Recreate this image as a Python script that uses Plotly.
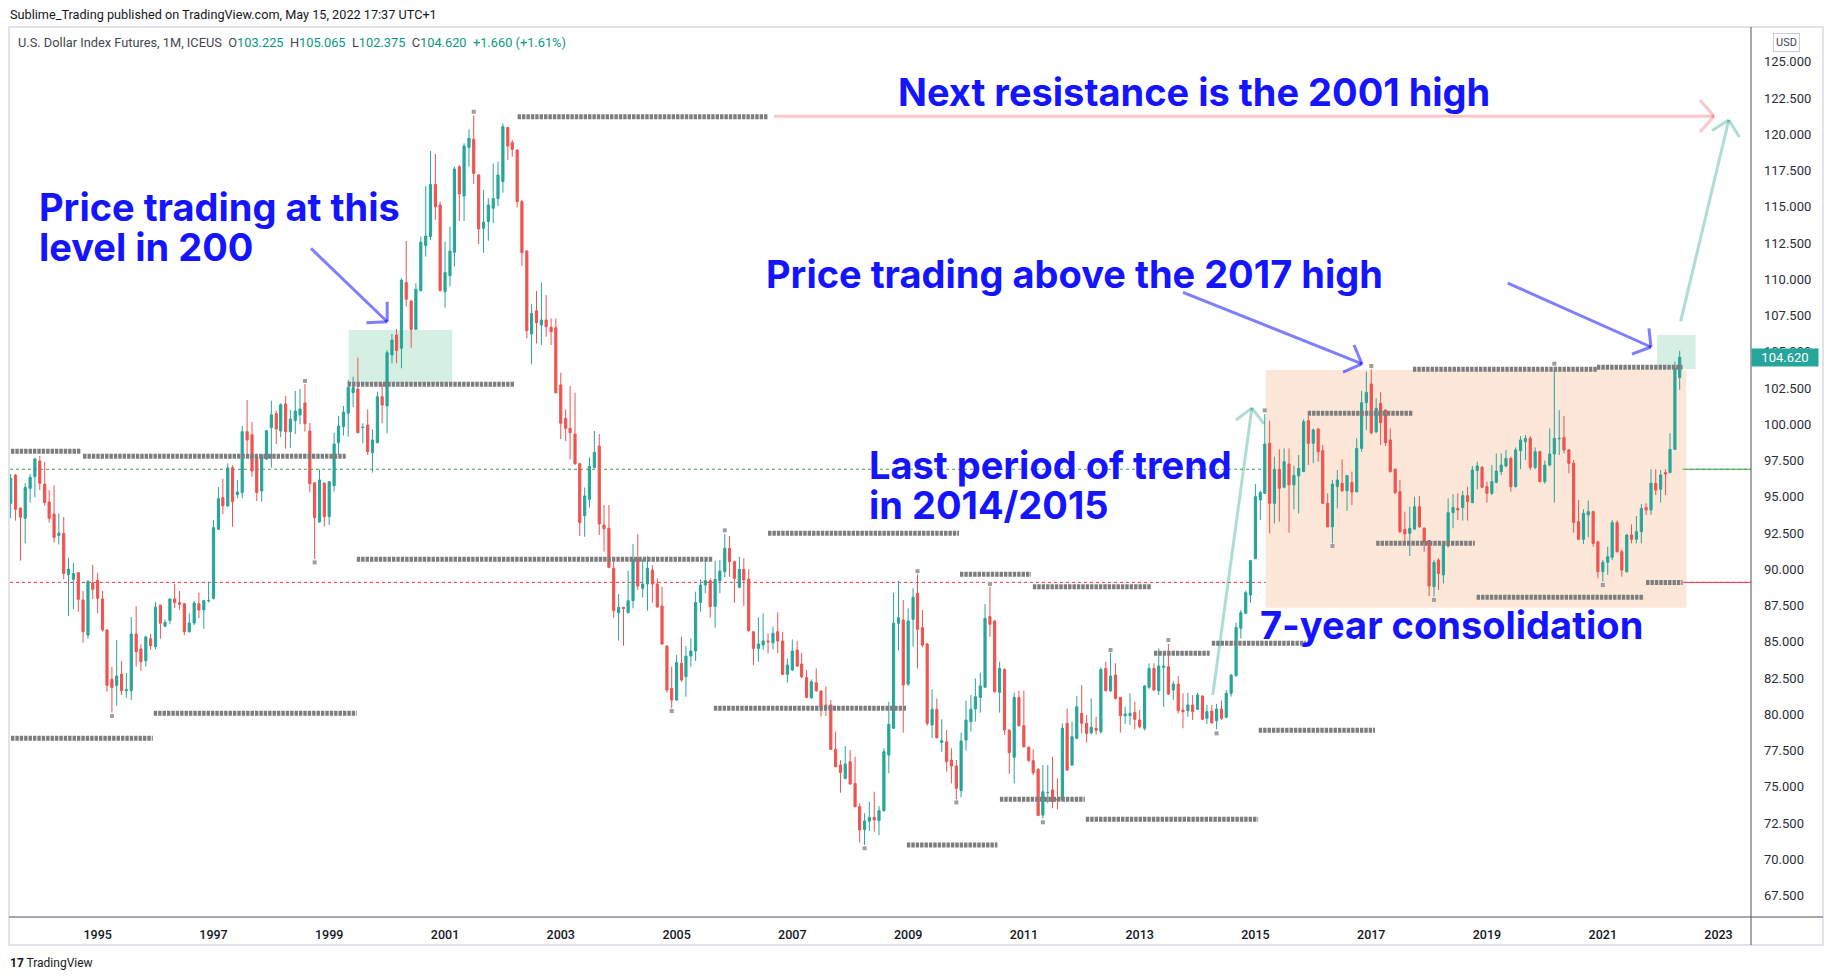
"""Dollar index futures, monthly candles 1993-2022, with the TradingView
style markup (pivot levels, boxes, arrows and notes) drawn on top."""

import pandas as pd
import plotly.graph_objects as go

# the browser puts the figure 8px in from the page corner (body margin)
BODY_MARGIN = 8
PAGE_W, PAGE_H = 1833, 980
FIG_W, FIG_H = PAGE_W - 2 * BODY_MARGIN, PAGE_H - 2 * BODY_MARGIN
# price pane, in page pixels
PANE_L, PANE_R, PANE_T, PANE_B = 10, 1751, 32, 917

UP = "#26a69a"
DOWN = "#ef5350"
INK = "#131722"
VALUE_GREEN = "#089981"
PIVOT_GREY = "#7d7d7d"
NOTE_BLUE = "#1414ff"
ARROW_BLUE = "rgba(20,20,255,0.55)"
ARROW_PINK = "rgba(242,54,69,0.28)"
ARROW_GREEN = "rgba(8,153,129,0.33)"
FRAME = "#e0e3eb"
AXIS_LINE = "#50535e"
UI_FONT = "Roboto"
NOTE_FONT = "Inter"

# ---------------------------------------------------------------- data
FIRST_MONTH = "1993-07-01"

opens = [
    94.55, 96.50, 94.23, 93.52, 95.58, 96.39,                               # 1993 Jul-Dec
    97.47, 95.88, 94.64, 93.81, 92.34, 92.48, 89.63, 89.31, 89.77, 87.89, 85.47, 89.06,
    89.24, 87.96, 85.82, 82.42, 82.00, 82.78, 81.63, 81.63, 85.54, 84.51, 83.70, 85.22,
    84.67, 87.52, 86.09, 86.48, 87.96, 87.70, 87.63, 85.70, 86.30, 87.63, 87.20, 87.84,
    88.00, 92.76, 94.94, 94.37, 97.01, 95.15, 95.29, 99.49, 99.28, 97.70, 95.40, 97.61,
    99.77, 100.73, 99.54, 101.40, 99.49, 100.25, 100.64, 101.47, 99.54, 95.97, 93.26, 95.95,
    93.63, 95.77, 98.73, 99.84, 100.76, 102.18, 102.43, 99.77, 99.95, 98.04, 98.73, 101.90,
    101.26, 104.78, 106.16, 105.24, 109.77, 108.50, 106.55, 109.22, 112.32, 112.94, 116.54, 115.12,
    109.15, 110.25, 111.86, 117.76, 115.74, 119.08, 119.65, 117.19, 113.52, 113.98, 114.89, 115.56,
    116.73, 120.47, 119.42, 118.91, 115.35, 111.95, 106.23, 107.83, 106.85, 107.19, 106.69, 106.66,
    102.71, 100.41, 99.72, 99.33, 97.28, 93.70, 94.83, 97.01, 98.50, 93.06, 92.83, 90.07,
    87.01, 87.38, 87.01, 87.84, 90.76, 88.69, 88.99, 89.95, 88.99, 87.47, 84.71, 81.80,
    80.99, 83.52, 82.60, 84.02, 84.37, 87.72, 88.92, 89.22, 87.43, 89.22, 89.84, 91.45,
    90.53, 88.76, 90.00, 89.33, 85.70, 84.55, 84.78, 85.06, 84.94, 85.70, 85.06, 82.76,
    83.06, 84.44, 83.47, 82.55, 81.15, 82.18, 81.61, 80.65, 80.65, 77.59, 76.51, 75.59,
    76.74, 75.24, 73.64, 72.07, 72.63, 72.90, 72.67, 73.36, 77.20, 79.04, 86.28, 86.51,
    82.09, 86.55, 88.35, 85.98, 84.85, 79.27, 80.35, 78.07, 78.12, 76.85, 76.44, 74.74,
    78.23, 79.50, 80.37, 81.17, 81.87, 86.74, 86.44, 81.52, 83.10, 78.92, 77.04, 81.17,
    79.22, 77.73, 76.81, 76.21, 73.06, 74.60, 74.79, 74.14, 74.10, 79.38, 76.51, 78.35,
    80.07, 79.38, 78.74, 79.04, 78.81, 83.17, 81.63, 82.71, 81.17, 79.91, 79.91, 80.14,
    79.61, 79.04, 81.87, 83.17, 81.63, 83.24, 83.29, 81.68, 82.09, 80.30, 80.26, 80.65,
    80.35, 81.27, 79.73, 80.23, 79.57, 80.37, 79.80, 81.45, 82.67, 85.93, 86.97, 88.23,
    90.74, 94.78, 95.24, 98.69, 94.55, 96.90, 95.66, 97.26, 95.82, 96.44, 96.74, 100.25,
    98.69, 99.68, 98.18, 94.55, 92.94, 95.70, 95.93, 95.42, 95.98, 95.35, 98.34, 101.49,
    102.78, 99.49, 101.45, 100.99, 98.92, 96.90, 95.35, 92.76, 92.48, 92.78, 94.32, 92.85,
    91.98, 88.80, 90.64, 89.61, 91.61, 93.91, 94.20, 94.27, 95.08, 94.60, 96.81, 97.03,
    95.70, 95.24, 96.00, 96.74, 97.13, 97.65, 95.70, 98.18, 98.80, 99.03, 97.03, 98.11,
    96.05, 97.19, 97.95, 99.00, 99.10, 98.23, 97.31, 93.29, 92.07, 93.75, 93.98, 91.90,
    89.84, 90.48, 90.83, 93.22, 91.22, 89.84, 92.37, 92.07, 92.60, 94.27, 94.09, 95.93,
    95.52, 96.67, 96.67, 98.27, 103.225,                                     # 2022 Jan-May
]

highs = [
    96.57, 96.57, 94.25, 95.93, 96.57, 97.72,
    97.81, 97.42, 95.47, 95.79, 93.86, 93.61, 90.80, 90.44, 89.80, 88.51, 89.26, 90.30,
    89.77, 88.51, 85.85, 83.29, 85.13, 83.68, 82.85, 86.71, 87.45, 84.83, 85.41, 85.54,
    87.75, 87.59, 86.55, 87.98, 89.01, 88.51, 87.65, 86.97, 87.82, 88.39, 87.89, 89.15,
    93.40, 95.68, 96.25, 97.31, 97.17, 96.16, 99.88, 101.68, 100.16, 97.72, 97.91, 99.61,
    101.63, 100.94, 101.45, 101.97, 100.99, 102.30, 102.43, 102.78, 100.09, 95.99, 96.89, 95.97,
    96.09, 99.42, 100.57, 101.26, 103.06, 103.28, 104.59, 100.07, 101.03, 99.65, 102.25, 102.82,
    105.12, 106.23, 106.57, 110.06, 112.64, 108.55, 109.72, 112.94, 116.43, 118.84, 118.64, 115.35,
    112.59, 113.63, 117.76, 117.88, 119.37, 120.34, 121.30, 117.25, 116.16, 115.58, 117.99, 118.11,
    120.75, 120.50, 119.60, 118.95, 115.46, 112.00, 108.29, 109.19, 109.77, 108.91, 107.30, 107.30,
    103.56, 101.03, 102.64, 102.18, 97.35, 95.65, 97.72, 99.54, 99.33, 94.43, 94.43, 90.53,
    88.30, 87.40, 89.91, 91.74, 92.43, 90.69, 90.90, 90.28, 89.38, 88.80, 84.75, 83.29,
    84.09, 85.36, 84.71, 85.24, 88.46, 89.31, 90.64, 89.38, 90.60, 90.64, 92.45, 92.30,
    90.60, 90.87, 90.76, 90.02, 85.75, 86.69, 86.97, 85.59, 86.05, 87.04, 85.70, 83.86,
    85.17, 85.06, 84.25, 83.06, 82.41, 83.17, 81.65, 81.91, 80.99, 78.81, 76.85, 77.82,
    77.54, 77.08, 73.87, 73.18, 73.98, 74.67, 73.68, 77.66, 80.87, 88.39, 89.20, 87.88,
    87.31, 88.69, 89.65, 87.20, 84.94, 81.73, 81.10, 79.66, 78.92, 77.66, 76.85, 78.74,
    80.95, 81.33, 82.48, 82.87, 87.61, 88.80, 86.51, 83.63, 83.17, 78.95, 81.50, 81.63,
    81.63, 77.80, 77.59, 76.28, 76.51, 76.51, 77.08, 75.59, 79.38, 80.41, 79.50, 81.26,
    82.02, 79.96, 81.10, 79.84, 83.24, 83.63, 84.25, 83.52, 81.20, 80.53, 81.45, 80.88,
    80.30, 82.02, 83.52, 83.52, 84.55, 84.21, 84.85, 82.30, 82.64, 81.45, 81.50, 81.33,
    81.50, 81.30, 80.65, 80.65, 80.72, 80.95, 81.68, 82.78, 86.32, 87.20, 88.53, 90.65,
    95.88, 95.42, 100.70, 100.25, 97.77, 98.27, 98.34, 98.34, 97.13, 97.88, 100.34, 100.57,
    99.72, 99.70, 98.57, 95.24, 96.16, 96.85, 97.58, 96.51, 96.74, 99.03, 102.32, 103.63,
    103.79, 101.79, 102.20, 101.00, 99.72, 96.96, 96.16, 93.98, 94.32, 95.01, 95.06, 92.87,
    92.00, 90.64, 90.76, 91.84, 94.90, 95.19, 95.24, 95.42, 95.70, 97.13, 97.42, 97.13,
    96.05, 97.19, 97.99, 97.99, 98.23, 97.77, 98.41, 99.19, 99.26, 99.19, 98.40, 98.18,
    97.50, 99.72, 103.96, 100.97, 100.57, 98.27, 97.54, 94.78, 94.14, 94.75, 94.04, 91.95,
    90.64, 91.56, 93.40, 93.36, 91.38, 92.44, 93.10, 93.68, 94.50, 94.55, 96.90, 96.90,
    96.85, 96.90, 99.38, 104.32, 105.065,
]

lows = [
    93.52, 93.36, 90.60, 91.79, 94.60, 94.96,
    95.47, 94.39, 93.22, 91.84, 91.72, 89.31, 86.78, 87.24, 87.08, 84.94, 85.22, 87.95,
    86.97, 85.70, 81.57, 80.12, 80.60, 81.33, 81.15, 80.99, 83.29, 83.01, 83.29, 84.46,
    84.48, 85.22, 86.00, 86.21, 87.33, 87.20, 85.47, 85.63, 86.16, 86.62, 85.91, 87.70,
    87.93, 92.71, 93.81, 94.32, 92.94, 94.90, 94.90, 97.81, 96.39, 94.71, 94.67, 97.54,
    97.01, 98.64, 99.10, 98.32, 98.37, 99.33, 100.00, 99.49, 95.31, 90.71, 93.22, 92.94,
    93.06, 95.36, 97.95, 99.22, 99.15, 101.20, 99.40, 98.69, 97.88, 96.67, 98.69, 100.07,
    99.38, 104.20, 104.20, 103.86, 108.11, 105.28, 106.50, 109.15, 111.56, 112.71, 114.10, 109.15,
    108.04, 109.49, 110.87, 114.02, 114.02, 117.76, 116.57, 112.43, 111.83, 112.66, 113.86, 115.05,
    115.97, 118.22, 118.45, 114.96, 110.92, 105.93, 104.13, 105.58, 105.47, 106.04, 105.47, 102.13,
    98.98, 98.85, 97.58, 97.20, 92.30, 92.25, 94.27, 96.96, 92.37, 91.22, 90.07, 86.67,
    85.08, 84.73, 86.97, 87.31, 88.58, 88.05, 87.15, 87.70, 87.38, 84.78, 81.50, 80.42,
    80.95, 82.25, 81.22, 83.29, 83.68, 87.08, 88.35, 86.67, 85.98, 88.35, 89.45, 89.49,
    87.70, 88.69, 87.47, 85.70, 83.40, 83.63, 84.44, 84.21, 84.48, 84.21, 82.71, 82.18,
    83.00, 83.30, 82.48, 81.10, 81.06, 81.56, 79.84, 79.89, 77.54, 76.35, 74.60, 75.52,
    75.15, 73.59, 71.16, 71.00, 71.96, 71.91, 71.68, 73.30, 75.94, 78.99, 84.39, 78.74,
    81.96, 84.67, 83.17, 84.62, 79.22, 78.35, 78.35, 77.43, 76.05, 75.24, 74.14, 74.28,
    77.50, 78.81, 79.50, 80.12, 81.87, 85.36, 81.50, 80.12, 78.58, 75.89, 75.24, 79.15,
    77.70, 76.74, 75.82, 73.00, 72.83, 73.87, 73.52, 73.46, 74.05, 76.10, 76.45, 78.28,
    78.69, 78.05, 78.60, 78.60, 78.65, 81.60, 81.55, 81.03, 78.74, 79.34, 79.27, 78.97,
    79.04, 78.88, 81.73, 81.63, 81.33, 80.53, 81.33, 81.00, 80.07, 79.04, 79.84, 79.61,
    80.30, 79.61, 79.34, 79.34, 78.97, 79.61, 79.73, 81.22, 82.60, 85.24, 86.92, 87.70,
    90.69, 93.40, 95.20, 92.48, 93.17, 93.29, 95.59, 92.53, 94.14, 93.86, 96.70, 97.19,
    97.31, 97.42, 94.50, 92.89, 91.79, 94.20, 95.33, 94.04, 94.43, 95.30, 98.11, 99.60,
    99.30, 99.38, 98.57, 98.50, 96.67, 95.20, 92.50, 91.79, 90.92, 92.71, 92.85, 91.22,
    88.16, 88.12, 88.58, 89.03, 91.52, 92.83, 93.40, 93.36, 93.36, 94.55, 95.52, 95.60,
    94.60, 95.12, 95.93, 96.50, 97.03, 95.35, 95.65, 96.90, 97.54, 96.85, 96.90, 95.98,
    95.90, 97.10, 94.60, 97.88, 98.00, 96.62, 92.53, 92.02, 91.75, 92.20, 91.56, 89.38,
    89.15, 89.61, 90.64, 91.15, 89.49, 89.77, 91.79, 91.79, 91.79, 93.75, 93.75, 95.12,
    94.60, 95.12, 96.62, 98.23, 102.375,
]

closes = [
    96.27, 94.14, 93.59, 95.65, 96.34, 97.61,
    95.93, 94.60, 93.52, 92.20, 92.50, 89.72, 90.02, 89.72, 87.93, 85.70, 89.15, 88.62,
    88.00, 85.82, 82.00, 81.86, 82.65, 81.63, 81.70, 85.54, 84.32, 83.63, 85.34, 84.74,
    87.40, 86.28, 86.35, 87.96, 87.70, 87.59, 85.70, 86.30, 87.68, 87.20, 87.84, 87.86,
    92.87, 94.87, 94.39, 96.99, 94.67, 95.33, 99.49, 98.92, 96.78, 95.29, 97.88, 99.56,
    100.66, 99.68, 101.35, 99.49, 100.36, 100.92, 101.06, 100.04, 95.90, 93.56, 96.16, 93.63,
    96.04, 98.64, 99.88, 100.85, 102.53, 102.53, 99.42, 99.80, 98.11, 98.92, 101.90, 101.33,
    104.94, 105.81, 105.08, 109.95, 108.62, 106.55, 109.31, 112.55, 112.98, 116.54, 115.00, 109.22,
    110.46, 111.95, 117.60, 115.88, 119.19, 119.72, 117.30, 113.47, 113.93, 115.12, 115.56, 117.19,
    120.52, 119.19, 118.96, 115.35, 111.83, 106.45, 107.65, 107.00, 107.19, 106.73, 106.39, 102.18,
    100.07, 99.72, 99.42, 97.28, 93.22, 95.06, 97.10, 98.07, 93.13, 92.80, 90.14, 87.15,
    87.38, 87.30, 87.84, 90.69, 88.85, 88.99, 90.07, 88.99, 87.40, 84.85, 81.68, 80.99,
    83.57, 82.37, 84.02, 84.37, 87.72, 88.92, 89.22, 87.43, 89.31, 89.88, 91.45, 90.53,
    89.38, 90.00, 89.27, 85.77, 84.55, 84.85, 85.06, 85.00, 85.59, 85.06, 82.76, 83.40,
    84.37, 83.33, 82.60, 81.17, 82.25, 81.63, 80.53, 80.60, 77.59, 76.39, 76.00, 76.58,
    75.20, 73.64, 72.03, 72.65, 72.90, 72.72, 73.36, 77.43, 79.31, 86.28, 86.67, 82.02,
    86.44, 88.07, 85.86, 84.78, 79.38, 80.35, 78.39, 78.19, 76.74, 76.44, 74.90, 78.16,
    79.61, 80.35, 81.22, 81.96, 86.62, 86.21, 81.56, 83.17, 78.92, 77.36, 81.17, 79.22,
    77.77, 76.81, 75.98, 73.02, 74.67, 74.62, 73.98, 74.10, 79.04, 76.17, 78.46, 80.53,
    79.38, 78.69, 79.11, 78.90, 83.10, 81.63, 82.64, 81.10, 79.91, 80.03, 80.07, 79.66,
    79.15, 81.96, 83.17, 81.68, 83.33, 83.33, 81.40, 82.09, 80.26, 80.19, 80.65, 80.19,
    81.33, 79.66, 80.19, 79.43, 80.37, 79.73, 81.45, 82.71, 86.00, 87.01, 88.39, 90.60,
    95.01, 95.29, 98.64, 94.55, 96.90, 95.59, 97.42, 95.82, 96.48, 96.96, 100.18, 98.69,
    99.61, 98.11, 94.55, 92.94, 95.88, 96.16, 95.42, 96.46, 95.33, 98.34, 101.49, 102.20,
    99.42, 101.10, 100.11, 98.73, 96.74, 95.29, 92.60, 92.44, 92.83, 94.32, 92.94, 91.84,
    88.85, 90.48, 89.72, 91.68, 93.91, 94.27, 94.09, 95.08, 94.67, 96.85, 97.13, 95.66,
    95.24, 96.05, 96.78, 97.19, 97.65, 95.70, 98.23, 98.92, 99.03, 97.03, 98.11, 96.05,
    97.19, 97.95, 99.03, 99.03, 98.23, 97.31, 93.22, 92.07, 93.86, 93.98, 91.79, 89.84,
    90.48, 90.87, 93.22, 91.22, 89.95, 92.37, 92.07, 92.60, 94.20, 94.09, 95.93, 95.47,
    96.51, 96.57, 98.27, 103.86, 104.62,
]

# pivot high / low levels, drawn as grey bead lines
piv_start = ["1993-07-03", "1994-10-01", "1999-06-24", "1995-12-21", "1993-07-03",
             "2002-04-04", "1999-04-28", "2006-08-01", "2005-08-24", "2009-11-24",
             "2008-12-24", "2011-02-27", "2010-08-03", "2012-01-27", "2013-04-01",
             "2014-04-01", "2015-01-22", "2015-11-27", "2017-09-21", "2020-11-25",
             "2017-02-01", "2018-10-28", "2021-10-01"]
piv_end = ["1994-09-17", "1999-04-15", "2005-08-18", "1999-06-24", "1995-12-15",
           "2006-08-01", "2002-03-16", "2009-11-18", "2008-12-18", "2011-02-15",
           "2010-07-18", "2013-03-18", "2012-01-21", "2015-01-18", "2014-03-18",
           "2015-11-15", "2017-01-25", "2017-09-21", "2020-11-25", "2022-05-19",
           "2018-10-16", "2021-09-18", "2022-05-19"]
piv_level = [98.15, 97.79, 90.70, 80.07, 78.35,
             121.20, 102.76, 92.48, 80.42, 89.66,
             71.00, 88.80, 74.15, 72.77, 84.21,
             84.90, 78.90, 100.76, 103.79, 103.93,
             91.80, 88.07, 89.10]

# small squares over the swing highs / under the swing lows
swing_date = ["1995-04-01", "1998-08-01", "1998-10-01", "2001-07-01", "2004-12-01",
              "2005-11-01", "2008-04-01", "2009-03-01", "2009-11-01", "2010-06-01",
              "2011-05-01", "2012-07-01", "2013-07-01", "2014-05-01", "2015-03-01",
              "2016-05-01", "2017-01-01", "2018-02-01", "2020-03-01", "2021-01-01"]
swing_value = [79.89, 102.99, 90.48, 121.55, 80.23,
               92.69, 70.77, 89.88, 73.93, 88.99,
               72.56, 84.44, 85.13, 78.69, 100.96,
               91.61, 104.02, 87.89, 104.18, 88.92]

LAST_CLOSE = 104.62
GREEN_LEVEL = 96.90
RED_LEVEL = 89.10

assert len(opens) == len(highs) == len(lows) == len(closes)
months = pd.date_range(FIRST_MONTH, periods=len(closes), freq="MS")


def paper_x(page_px):
    return (page_px - PANE_L) / (PANE_R - PANE_L)


def paper_y(page_py):
    return (PANE_B - page_py) / (PANE_B - PANE_T)


fig = go.Figure()

fig.add_trace(go.Candlestick(
    x=months, open=opens, high=highs, low=lows, close=closes,
    increasing=dict(line=dict(color=UP, width=1), fillcolor=UP),
    decreasing=dict(line=dict(color=DOWN, width=1), fillcolor=DOWN),
    whiskerwidth=0, hoverinfo="skip", showlegend=False,
))

# pivot level lines, one trace with gaps between segments
seg_x, seg_y = [], []
for s, e, lv in zip(piv_start, piv_end, piv_level):
    seg_x += [s, e, None]
    seg_y += [lv, lv, None]
fig.add_trace(go.Scatter(
    x=seg_x, y=seg_y, mode="lines", connectgaps=False,
    line=dict(color=PIVOT_GREY, width=5, dash="3.4px,1px"),
    hoverinfo="skip", showlegend=False,
))
fig.add_trace(go.Scatter(
    x=swing_date, y=swing_value, mode="markers",
    marker=dict(symbol="square", size=4, color="#9e9e9e"),
    hoverinfo="skip", showlegend=False,
))

shapes = []

# shaded zones (under the candles)
for x0, x1, y0, y1, col in [
    ("1999-05-04", "2001-02-15", 102.83, 106.50, "#d6efe3"),
    ("2015-03-07", "2022-06-12", 87.35, 103.74, "#fde7d8"),
    ("2021-12-10", "2022-08-10", 103.81, 106.16, "#d6efe3"),
]:
    shapes.append(dict(type="rect", xref="x", yref="y", x0=x0, x1=x1,
                       y0=y0, y1=y1, fillcolor=col, line_width=0, layer="below"))

# dotted price lines with a solid stub past the last bar
for lv, col in [(GREEN_LEVEL, "#43a047"), (RED_LEVEL, "#f23645")]:
    shapes.append(dict(type="line", xref="paper", yref="y", x0=0, x1=1,
                       y0=lv, y1=lv, layer="below",
                       line=dict(color=col, width=1, dash="dot")))
    shapes.append(dict(type="line", xref="x", yref="y", x0="2022-05-20",
                       x1="2023-07-25", y0=lv, y1=lv, layer="below",
                       line=dict(color=col, width=1)))

# arrows: tail, tip and the two ends of the open head
arrows = [
    (("1998-09-08", 112.13), ("2000-01-02", 107.07),
     ("2000-01-02", 108.45), ("1999-08-24", 107.00), ARROW_BLUE),
    (("2013-10-01", 109.10), ("2016-11-04", 104.16),
     ("2016-09-14", 105.47), ("2016-07-07", 103.59), ARROW_BLUE),
    (("2019-05-12", 109.74), ("2021-11-01", 105.33),
     ("2021-10-19", 106.62), ("2021-07-04", 104.84), ARROW_BLUE),
    (("2006-09-07", 121.24), ("2022-12-04", 121.24),
     ("2022-09-06", 122.36), ("2022-09-06", 120.15), ARROW_PINK),
    (("2014-04-07", 81.34), ("2014-12-10", 101.13),
     ("2014-09-01", 100.30), ("2015-02-24", 100.03), ARROW_GREEN),
    (("2022-05-07", 107.09), ("2023-03-07", 120.98),
     ("2022-11-22", 120.26), ("2023-05-13", 119.81), ARROW_GREEN),
]
for tail, tip, arm_a, arm_b, col in arrows:
    for start in (tail, arm_a, arm_b):
        shapes.append(dict(type="line", xref="x", yref="y",
                           x0=start[0], y0=start[1], x1=tip[0], y1=tip[1],
                           line=dict(color=col, width=3)))

# TradingView frame: outer border, time-axis and price-axis separators
shapes += [
    dict(type="rect", xref="paper", yref="paper",
         x0=paper_x(9), x1=paper_x(1823), y0=paper_y(27), y1=paper_y(945),
         line=dict(color=FRAME, width=2), layer="below"),
    dict(type="line", xref="paper", yref="paper",
         x0=paper_x(9), x1=paper_x(1823), y0=0, y1=0,
         line=dict(color=AXIS_LINE, width=1)),
    dict(type="line", xref="paper", yref="paper",
         x0=1, x1=1, y0=paper_y(27), y1=paper_y(945),
         line=dict(color=AXIS_LINE, width=1)),
]

annotations = []


def note(text, left_px, mid_px):
    annotations.append(dict(
        text=f"<b>{text}</b>", xref="paper", yref="paper",
        x=paper_x(left_px), y=paper_y(mid_px), xanchor="left", yanchor="middle",
        showarrow=False,
        font=dict(family=NOTE_FONT, size=38, color=NOTE_BLUE),
    ))


note("Price trading at this", 37, 207)
note("level in 200", 37, 247)
note("Next resistance is the 2001 high", 896, 92)
note("Price trading above the 2017 high", 764, 274)
note("Last period of trend", 867, 465)
note("in 2014/2015", 867, 505)
note("7-year consolidation", 1258, 625)

# header and chart legend
annotations.append(dict(
    text="Sublime_Trading published on TradingView.com, May 15, 2022 17:37 UTC+1",
    xref="paper", yref="paper", x=paper_x(8), y=paper_y(14),
    xanchor="left", yanchor="middle", showarrow=False,
    font=dict(family=UI_FONT, size=12.7, color=INK),
))


def val(v):
    return f"<span style='color:{VALUE_GREEN}'>{v}</span>"


sp = "\u00a0\u00a0"
legend = ("U.S. Dollar Index Futures, 1M, ICEUS" + sp + "O" + val("103.225") + sp
          + "H" + val("105.065") + sp + "L" + val("102.375") + sp + "C" + val("104.620")
          + sp + val("+1.660 (+1.61%)"))
annotations.append(dict(
    text=legend, xref="paper", yref="paper", x=paper_x(16), y=paper_y(42),
    xanchor="left", yanchor="middle", showarrow=False,
    font=dict(family=UI_FONT, size=12.8, color="#434651"),
))

# price scale extras: currency badge and last price tag
annotations.append(dict(
    text="USD", xref="paper", yref="paper", x=paper_x(1786.5), y=paper_y(42),
    xanchor="center", yanchor="middle", showarrow=False,
    font=dict(family=UI_FONT, size=11, color="#434651"),
    bordercolor="#c9ccd6", borderwidth=1, borderpad=2, bgcolor="white",
))
annotations.append(dict(
    text=f"{LAST_CLOSE:.3f}", xref="paper", yref="y", x=1, y=LAST_CLOSE,
    xanchor="left", yanchor="middle", showarrow=False,
    font=dict(family=UI_FONT, size=13, color="white"),
    bgcolor=UP, borderpad=2, width=62, height=13,
))

# footer logo
annotations.append(dict(
    text="<b>17</b> TradingView", xref="paper", yref="paper",
    x=paper_x(8), y=paper_y(963), xanchor="left", yanchor="middle",
    showarrow=False, font=dict(family=UI_FONT, size=12, color=INK),
))

# figure pixels = page pixels minus the body margin
fig.update_layout(
    width=FIG_W, height=FIG_H,
    margin=dict(l=PANE_L - BODY_MARGIN, r=FIG_W - (PANE_R - BODY_MARGIN),
                t=PANE_T - BODY_MARGIN, b=FIG_H - (PANE_B - BODY_MARGIN), pad=0),
    paper_bgcolor="white", plot_bgcolor="white",
    showlegend=False, shapes=shapes, annotations=annotations,
    font=dict(family=UI_FONT, color=INK),
)
fig.update_xaxes(
    type="date", range=["1993-06-27", "2023-07-25"],
    rangeslider_visible=False, showgrid=False, zeroline=False, showline=False,
    ticks="", tickformat="%Y", dtick="M24", tick0="1995-01-01",
    tickfont=dict(family=UI_FONT, size=12.5, color=INK, weight=500),
    ticklabelstandoff=8,
)
fig.update_yaxes(
    side="right", range=[66.03, 127.048], showgrid=False, zeroline=False,
    showline=False, ticks="", dtick=2.5, tick0=0, tickformat=".3f",
    tickfont=dict(family=UI_FONT, size=13, color="#2a2e39"),
    ticklabelstandoff=12,
)

fig.write_html("out.html")
